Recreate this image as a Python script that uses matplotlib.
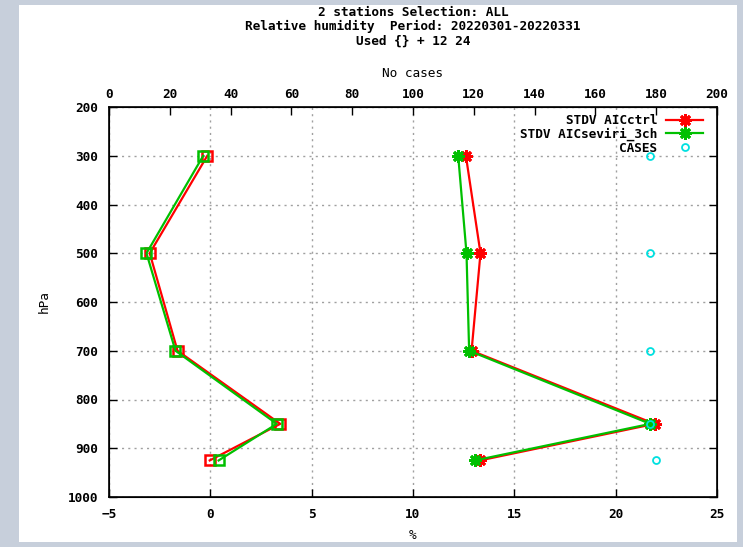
import numpy as np
import matplotlib
matplotlib.use('Agg')
import matplotlib.pyplot as plt
from matplotlib.patches import Rectangle

# pressure levels (hPa)
levels = [300, 500, 700, 850, 925]

# bias profiles (%)
bias_ctrl = [-0.15, -2.99, -1.62, 3.45, -0.03]
bias_seviri = [-0.35, -3.15, -1.72, 3.28, 0.41]

# standard deviation profiles (%)
stdv_ctrl = [12.61, 13.33, 12.89, 21.92, 13.30]
stdv_seviri = [12.23, 12.64, 12.77, 21.71, 13.05]

# number of cases per level
cases = [178, 178, 178, 178, 180]

title_lines = ['2 stations Selection: ALL',
               'Relative humidity  Period: 20220301-20220331',
               'Used {} + 12 24']

RED = '#ff0000'
GREEN = '#00c000'
CYAN = '#00e0e0'
FS = 9.2

plt.rcParams.update({
    'font.family': 'DejaVu Sans Mono',
    'font.weight': 'bold',
    'font.size': FS,
})

W, H = 743, 547
fig = plt.figure(figsize=(W / 100, H / 100), dpi=100)
fig.patch.set_facecolor('#c7cfdb')
fig.patches.append(Rectangle((19 / W, 1 - 542 / H), (737 - 19) / W, (542 - 5) / H,
                             transform=fig.transFigure, facecolor='white',
                             edgecolor='none', zorder=-10))

ax = fig.add_axes([109 / W, 1 - 497 / H, (717 - 109) / W, (497 - 107) / H])
ax.set_xlim(-5, 25)
ax.set_ylim(1000, 200)
ax.set_xticks(np.arange(-5, 26, 5))
ax.set_yticks(np.arange(200, 1001, 100))
ax.grid(True, color='#a0a0a0', ls=(0, (1.5, 3)), lw=1.0)
ax.tick_params(direction='in', length=6, width=1, top=True, right=True,
               labelsize=FS, pad=8)
for s in ax.spines.values():
    s.set_linewidth(1.2)
ax.set_xlabel('%', fontsize=FS, labelpad=6)
ax.set_ylabel('hPa', fontsize=FS, labelpad=12)

# bias curves (open squares)
ax.plot(bias_ctrl, levels, color=RED, lw=1.6, marker='s', ms=7,
        mfc='none', mew=1.8, zorder=3)
ax.plot(bias_seviri, levels, color=GREEN, lw=1.6, marker='s', ms=7,
        mfc='none', mew=1.8, zorder=4)

# stdv curves (asterisks)
ax.plot(stdv_ctrl, levels, color=RED, lw=1.6, marker=(8, 2, 0), ms=9,
        mew=2, label='STDV AICctrl', zorder=3)
ax.plot(stdv_seviri, levels, color=GREEN, lw=1.6, marker=(8, 2, 0), ms=9,
        mew=2, label='STDV AICseviri_3ch', zorder=4)

# case counts on the upper axis
ax2 = ax.twiny()
ax2.set_xlim(0, 200)
ax2.set_xticks(np.arange(0, 201, 20))
ax2.tick_params(direction='in', length=6, width=1, labelsize=FS, pad=4)
ax2.set_xlabel('No cases', fontsize=FS, labelpad=8)
ax2.plot(cases, levels, ls='none', marker='o', ms=5, mfc='none', mew=1.3,
         color=CYAN, label='CASES', zorder=5)

h1, l1 = ax.get_legend_handles_labels()
h2, l2 = ax2.get_legend_handles_labels()
leg = ax2.legend(h1 + h2, l1 + l2, loc='upper right',
                 bbox_to_anchor=(0.988, 0.998), frameon=False,
                 markerfirst=False, handlelength=2.9, handletextpad=0.7,
                 labelspacing=0.05, borderpad=0, fontsize=FS)
for t in leg.get_texts():
    t.set_ha('right')

fig.text(413 / W, 1 - 6 / H, '\n'.join(title_lines), ha='center', va='top',
         fontsize=FS, linespacing=1.12)

fig.savefig('out.png', dpi=100, facecolor=fig.get_facecolor())
